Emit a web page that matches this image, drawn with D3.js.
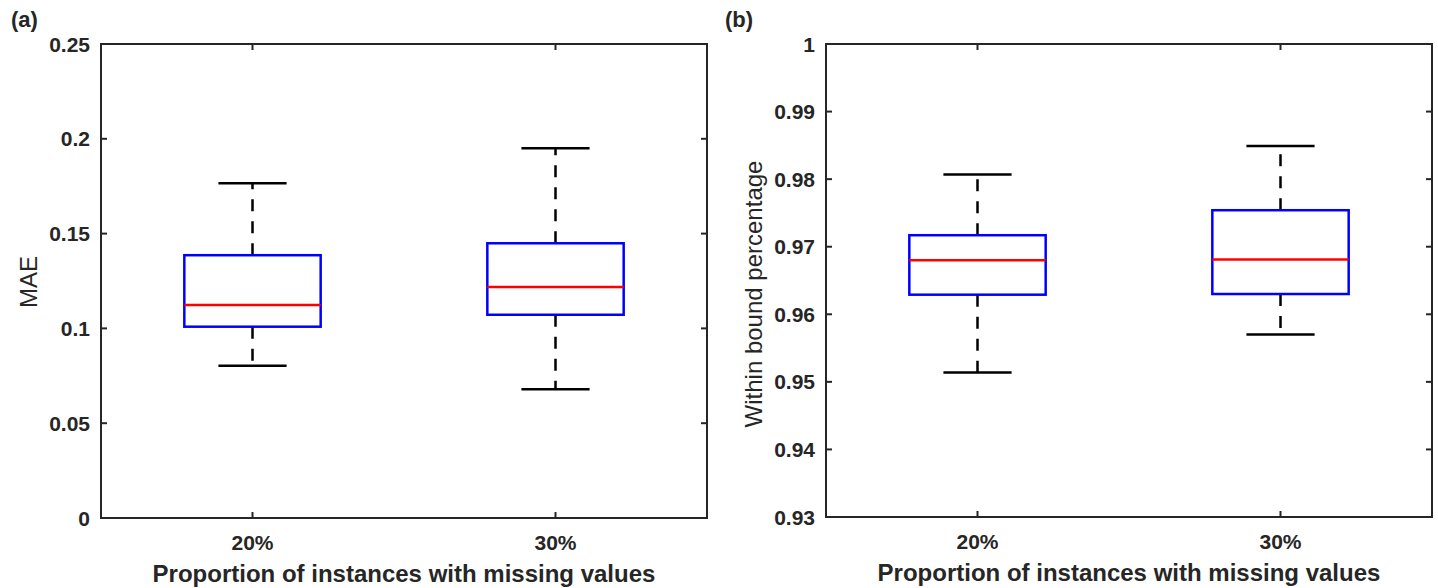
<!DOCTYPE html>
<html>
<head>
  <meta charset="utf-8">
  <style>
    body { margin: 0; background: #fff; }
    svg text { font-family: "Liberation Sans", Arial, sans-serif; fill: #262626; }
    .tick-label { font-size: 21px; font-weight: bold; }
    .ylab { font-size: 24px; }
    .xlab { font-size: 24px; font-weight: bold; }
    .panel-label { font-size: 22px; font-weight: bold; }
  </style>
</head>
<body>
  <svg width="1438" height="588"></svg>
  <script src="https://d3js.org/d3.v7.min.js"></script>
  <script>

  // data
  var categories = ["20%", "30%"];

  // (a) MAE: [lower whisker, q1, median, q3, upper whisker]
  var maeStats = [
    [0.0803, 0.1009, 0.1123, 0.1386, 0.1765],
    [0.0679, 0.1072, 0.1218, 0.1449, 0.1950]
  ];
  var maeTicks = [0, 0.05, 0.1, 0.15, 0.2, 0.25];

  // (b) within bound percentage
  var boundStats = [
    [0.9514, 0.9629, 0.9680, 0.9717, 0.9807],
    [0.9570, 0.9630, 0.9681, 0.9754, 0.9849]
  ];
  var boundTicks = [0.93, 0.94, 0.95, 0.96, 0.97, 0.98, 0.99, 1];

  var svg = d3.select("svg");

  function drawPanel(opt) {
    var g = svg.append("g");

    var x = d3.scaleLinear().domain([0.5, categories.length + 0.5]).range([opt.left, opt.right]);
    var y = d3.scaleLinear().domain(opt.domain).range([opt.bottom, opt.top]);
    var boxW = x(1.45) - x(1);
    var capW = boxW / 2;

    // axis box
    g.append("rect")
      .attr("x", opt.left).attr("y", opt.top)
      .attr("width", opt.right - opt.left).attr("height", opt.bottom - opt.top)
      .attr("fill", "none").attr("stroke", "#262626").attr("stroke-width", 2);

    // y ticks (inward, both sides)
    opt.ticks.forEach(function(t) {
      g.append("line").attr("x1", opt.left).attr("x2", opt.left + 6)
        .attr("y1", y(t)).attr("y2", y(t)).attr("stroke", "#262626").attr("stroke-width", 2);
      g.append("line").attr("x1", opt.right).attr("x2", opt.right - 6)
        .attr("y1", y(t)).attr("y2", y(t)).attr("stroke", "#262626").attr("stroke-width", 2);
      g.append("text").attr("class", "tick-label")
        .attr("x", opt.left - 11).attr("y", y(t)).attr("dy", "0.36em")
        .attr("text-anchor", "end").text(d3.format(opt.fmt)(t));
    });

    // x ticks
    categories.forEach(function(c, i) {
      var cx = x(i + 1);
      g.append("line").attr("x1", cx).attr("x2", cx)
        .attr("y1", opt.bottom).attr("y2", opt.bottom - 6).attr("stroke", "#262626").attr("stroke-width", 2);
      g.append("line").attr("x1", cx).attr("x2", cx)
        .attr("y1", opt.top).attr("y2", opt.top + 6).attr("stroke", "#262626").attr("stroke-width", 2);
      g.append("text").attr("class", "tick-label")
        .attr("x", cx).attr("y", opt.bottom + 32)
        .attr("text-anchor", "middle").text(c);
    });

    // boxes
    opt.stats.forEach(function(s, i) {
      var cx = x(i + 1);
      // whiskers
      g.append("line").attr("x1", cx).attr("x2", cx).attr("y1", y(s[3])).attr("y2", y(s[4]))
        .attr("stroke", "#000").attr("stroke-width", 2.5).attr("stroke-dasharray", "12,10");
      g.append("line").attr("x1", cx).attr("x2", cx).attr("y1", y(s[1])).attr("y2", y(s[0]))
        .attr("stroke", "#000").attr("stroke-width", 2.5).attr("stroke-dasharray", "12,10");
      [s[0], s[4]].forEach(function(v) {
        g.append("line").attr("x1", cx - capW / 2).attr("x2", cx + capW / 2)
          .attr("y1", y(v)).attr("y2", y(v)).attr("stroke", "#000").attr("stroke-width", 2.5);
      });
      g.append("rect")
        .attr("x", cx - boxW / 2).attr("y", y(s[3]))
        .attr("width", boxW).attr("height", y(s[1]) - y(s[3]))
        .attr("fill", "none").attr("stroke", "#0000ff").attr("stroke-width", 2.5);
      g.append("line").attr("x1", cx - boxW / 2).attr("x2", cx + boxW / 2)
        .attr("y1", y(s[2])).attr("y2", y(s[2])).attr("stroke", "#ff0000").attr("stroke-width", 2.5);
    });

    // labels
    g.append("text").attr("class", "ylab")
      .attr("transform", "translate(" + opt.ylabX + "," + opt.ylabY + ") rotate(-90)")
      .attr("text-anchor", "middle").text(opt.ylabel);
    g.append("text").attr("class", "xlab")
      .attr("x", (opt.left + opt.right) / 2).attr("y", opt.bottom + 64)
      .attr("text-anchor", "middle").text("Proportion of instances with missing values");
    g.append("text").attr("class", "panel-label")
      .attr("x", opt.panelX).attr("y", 27).text(opt.panel);
  }

  drawPanel({
    left: 101, right: 707, top: 44, bottom: 518,
    domain: [0, 0.25], ticks: maeTicks, fmt: "", stats: maeStats,
    ylabel: "MAE", ylabX: 37, ylabY: 282, panel: "(a)", panelX: 11
  });

  drawPanel({
    left: 826, right: 1432, top: 44, bottom: 517,
    domain: [0.93, 1], ticks: boundTicks, fmt: "", stats: boundStats,
    ylabel: "Within bound percentage", ylabX: 762, ylabY: 294, panel: "(b)", panelX: 725
  });

  </script>
</body>
</html>
